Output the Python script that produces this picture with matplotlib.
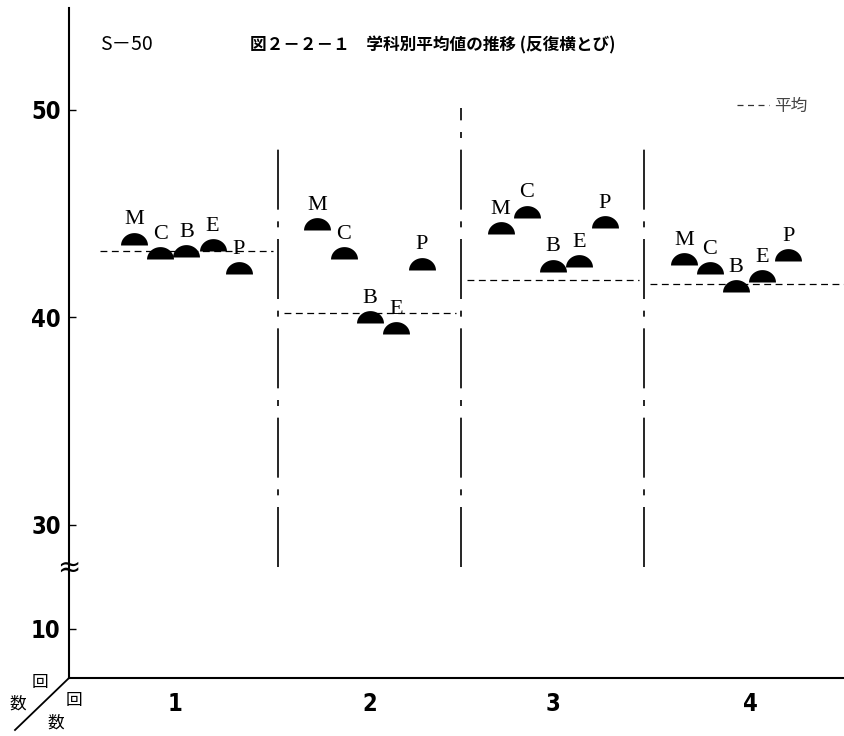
import numpy as np
import matplotlib
matplotlib.use("Agg")
import matplotlib.pyplot as plt
from matplotlib.path import Path
from matplotlib.lines import Line2D

# 回数（1〜4回目）
trials = [1, 2, 3, 4]
trial_labels = ["1", "2", "3", "4"]

# 学科
depts = ["M", "C", "B", "E", "P"]

# 学科別平均値（反復横とび）
score_m = [43.5, 44.2, 44.0, 42.5]
score_c = [42.8, 42.8, 44.8, 42.1]
score_b = [42.9, 39.7, 42.2, 41.2]
score_e = [43.2, 39.2, 42.4, 41.7]
score_p = [42.1, 42.3, 44.3, 42.7]

# 各回の全体平均
score_mean = [43.2, 40.2, 41.8, 41.6]

# 縦軸目盛り
y_ticks = [10, 30, 40, 50]

NARROW = ["Liberation Sans Narrow", "DejaVu Sans", "Noto Sans CJK JP"]
JP = ["Noto Sans CJK JP", "DejaVu Sans"]
SERIF = ["Liberation Serif", "DejaVu Serif"]


def axis_pos(v):
    """30 未満は省略（≈）して詰めて描く。"""
    if v >= 30:
        return v
    return 30 - (30 - v) * 0.25


# 半円マーカー（底辺の中心が値の位置）
t = np.linspace(0, np.pi, 48)
half = np.column_stack([np.cos(t), 0.92 * np.sin(t)])
half_disk = Path(np.vstack([half, half[:1]]), closed=True)

fig = plt.figure(figsize=(8.45, 7.36), dpi=100)
ax = fig.add_axes([69 / 845, 58 / 736, 776 / 845, 670 / 736])
ax.set_xlim(0.359, 4.595)
ax.set_ylim(22.62, 54.9)

# 回の区切り（一点鎖線）
sep_x = [1.5, 2.5, 3.5]
sep_top = [48.4, 50.1, 48.4]
for x, top in zip(sep_x, sep_top):
    ax.vlines(x, axis_pos(21.8), top, colors="black", lw=1.2,
              linestyles=[(0, (36, 7, 3.6, 7))])

# 全体平均（破線）
xl, xr = ax.get_xlim()
for g, m in zip(trials, score_mean):
    left = max(g - 0.5, xl) + 0.03
    right = xr if g == trials[-1] else g + 0.5 - 0.03
    ax.hlines(m, left, right, colors="black", lw=0.9,
              linestyles=[(0, (5.5, 3.6))])

# 学科別の点
series = [score_m, score_c, score_b, score_e, score_p]
step = 0.1425
for i, (dept, vals) in enumerate(zip(depts, series)):
    off = (i - 2) * step
    xs = [g + off for g in trials]
    ys = [axis_pos(v) for v in vals]
    ax.plot(xs, ys, ls="none", marker=half_disk, ms=19.4,
            color="black", mec="black", mew=0)
    for x, y in zip(xs, ys):
        ax.annotate(dept, (x, y), xytext=(0, 14.5), textcoords="offset points",
                    ha="center", va="baseline", fontsize=16, family=SERIF)

# 軸
for side in ("top", "right"):
    ax.spines[side].set_visible(False)
for side in ("left", "bottom"):
    ax.spines[side].set_linewidth(1.5)

ax.set_yticks([axis_pos(v) for v in y_ticks])
ax.set_yticklabels([str(v) for v in y_ticks], family=NARROW, fontsize=17,
                   fontstretch="condensed", fontweight="semibold")
ax.tick_params(axis="y", direction="in", length=5, width=1, pad=6)

# 回の番号（少し外側に寄せて置く）
label_x = [0.94, 2.0, 3.0, 4.08]
ax.set_xticks(label_x)
ax.set_xticklabels(trial_labels, family=NARROW, fontsize=17, fontweight="bold",
                   fontstretch="condensed")
ax.tick_params(axis="x", length=0, pad=10)

# 省略記号
ax.text(xl, axis_pos(21.8), "≈", ha="center", va="center", fontsize=20,
        family=["DejaVu Sans"], clip_on=False)

# 凡例
ax.legend(handles=[Line2D([], [], color="#333333", lw=0.9, ls=(0, (4.8, 3.6)))],
          labels=["平均"], loc="upper left", frameon=False,
          bbox_to_anchor=(737 / 845, 1 - 98 / 736), bbox_transform=fig.transFigure,
          borderpad=0, borderaxespad=0, handlelength=1.9, handletextpad=0.35,
          prop={"family": JP, "size": 12}, labelcolor="#444444")

# 見出し
fig.text(100 / 845, 1 - 45 / 736, "S－50", ha="left", va="center",
         fontsize=14, family=JP)
fig.text(250 / 845, 1 - 45 / 736, "図２－２－１　学科別平均値の推移 (反復横とび)",
         ha="left", va="center", fontsize=12, fontweight="bold", family=JP)

# 左下の奥行き軸（回数）
fig.add_artist(Line2D([69 / 845, 15 / 845], [1 - 678 / 736, 1 - 730 / 736],
                      transform=fig.transFigure, color="black", lw=1.3))
corner_chars = [("回", 40, 683), ("数", 18, 704), ("回", 74, 700), ("数", 56, 723)]
for ch, px, py in corner_chars:
    fig.text(px / 845, 1 - py / 736, ch, ha="center", va="center",
             fontsize=12, family=JP)

fig.savefig("out.png", dpi=100)
